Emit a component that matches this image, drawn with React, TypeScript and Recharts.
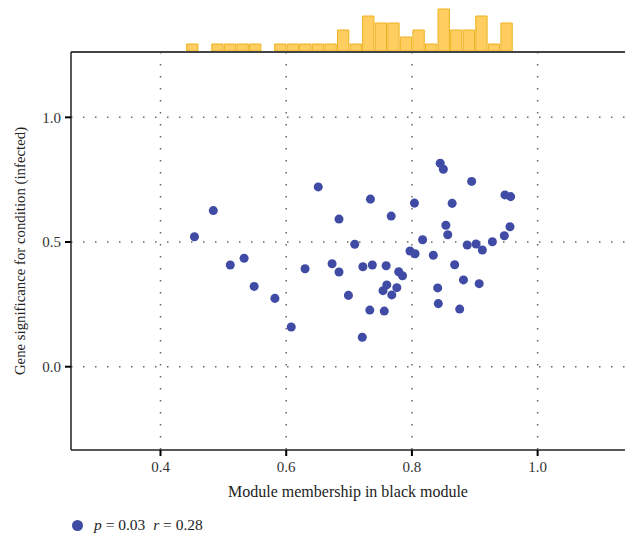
import React from 'react';
import {
  BarChart, Bar, ScatterChart, Scatter, XAxis, YAxis, CartesianGrid, ReferenceLine,
} from 'recharts';

// module membership (x) vs gene significance (y)
const membership = [
  0.454, 0.484, 0.651, 0.684, 0.709, 0.533, 0.511, 0.549, 0.582, 0.608,
  0.630, 0.673, 0.684, 0.699, 0.734, 0.767, 0.804, 0.817, 0.797, 0.845,
  0.850, 0.864, 0.854, 0.857, 0.895, 0.948, 0.957, 0.956, 0.947, 0.928,
  0.888, 0.902, 0.912, 0.805, 0.834, 0.868, 0.722, 0.737, 0.759, 0.779,
  0.785, 0.760, 0.754, 0.768, 0.776, 0.733, 0.756, 0.721, 0.841, 0.842,
  0.882, 0.907, 0.876,
];
const significance = [
  0.521, 0.626, 0.721, 0.592, 0.491, 0.435, 0.408, 0.322, 0.274, 0.159,
  0.393, 0.413, 0.380, 0.286, 0.672, 0.604, 0.656, 0.509, 0.464, 0.816,
  0.792, 0.655, 0.567, 0.529, 0.743, 0.689, 0.682, 0.561, 0.525, 0.501,
  0.488, 0.492, 0.468, 0.453, 0.447, 0.409, 0.401, 0.408, 0.405, 0.381,
  0.365, 0.328, 0.305, 0.288, 0.317, 0.227, 0.223, 0.118, 0.316, 0.253,
  0.348, 0.333, 0.231,
];

// marginal histogram (bin start, count), bin width 0.02
const binStarts = [
  0.44, 0.48, 0.50, 0.52, 0.54, 0.58, 0.60, 0.62, 0.64, 0.66, 0.68, 0.70,
  0.72, 0.74, 0.76, 0.78, 0.80, 0.82, 0.84, 0.86, 0.88, 0.90, 0.92, 0.94,
];
const binCounts = [1, 1, 1, 1, 1, 1, 1, 1, 1, 1, 3, 1, 5, 4, 4, 2, 3, 1, 6, 3, 3, 5, 1, 4];
const binWidth = 0.02;

const xTicks = [0.4, 0.6, 0.8, 1.0];
const yTicks = [0.0, 0.5, 1.0];

const X_MIN = 0.2576;
const X_MAX = 1.139;
const Y_MIN = -0.334;
const Y_MAX = 1.262;

const W = 625;
const PLOT_LEFT = 71;
const PLOT_TOP = 52;
const PLOT_BOTTOM = 450;
const HIST_H = 51;

const FONT = '"Liberation Serif", "DejaVu Serif", serif';
const DOT = '#3f4ba4';

const points = membership.map((x, i) => ({ x, y: significance[i] }));
const bins = binStarts.map((s, i) => ({ mid: s + binWidth / 2, count: binCounts[i] }));

const fmt = (v: number) => v.toFixed(1);

export default function App() {
  const plotW = W - PLOT_LEFT;
  const barPx = (binWidth * plotW) / (X_MAX - X_MIN);

  return (
    <div style={{ position: 'absolute', left: 0, top: 0, width: W, height: 539, background: '#fff', fontFamily: FONT }}>
      <div style={{ position: 'absolute', left: 0, top: 0 }}>
        <BarChart
          width={W}
          height={HIST_H}
          data={bins}
          margin={{ top: 0, right: 0, left: PLOT_LEFT, bottom: 0 }}
          barSize={barPx}
          barCategoryGap={0}
        >
          <XAxis hide type="number" dataKey="mid" domain={[X_MIN, X_MAX]} allowDataOverflow />
          <YAxis hide type="number" domain={[0, HIST_H / 7]} allowDataOverflow />
          <Bar dataKey="count" fill="#ffcd60" stroke="#edb21c" strokeWidth={1} isAnimationActive={false} />
        </BarChart>
      </div>
      <div style={{ position: 'absolute', left: 0, top: 0 }}>
        <ScatterChart
          width={W}
          height={539}
          margin={{ top: PLOT_TOP, right: 0, left: 11, bottom: 539 - PLOT_BOTTOM - 50 }}
        >
          <CartesianGrid
            stroke="#666"
            strokeWidth={1.5}
            strokeDasharray="1.5 10.5"
            horizontalValues={yTicks}
            verticalValues={xTicks}
          />
          <XAxis
            type="number"
            dataKey="x"
            domain={[X_MIN, X_MAX]}
            ticks={xTicks}
            tickFormatter={fmt}
            allowDataOverflow
            height={50}
            axisLine={{ stroke: '#222', strokeWidth: 1.5 }}
            tickLine={{ stroke: '#000', strokeWidth: 2 }}
            tickSize={6}
            tickMargin={5}
            tick={{ fill: '#333', fontSize: 15, fontFamily: FONT }}
            label={{
              value: 'Module membership in black module',
              position: 'insideBottom',
              offset: 3,
              style: { fill: '#222', fontSize: 16, fontFamily: FONT },
            }}
          />
          <YAxis
            type="number"
            dataKey="y"
            domain={[Y_MIN, Y_MAX]}
            ticks={yTicks}
            tickFormatter={fmt}
            allowDataOverflow
            width={60}
            axisLine={{ stroke: '#222', strokeWidth: 1.5 }}
            tickLine={{ stroke: '#000', strokeWidth: 2 }}
            tickSize={6}
            tickMargin={4}
            tick={{ fill: '#333', fontSize: 15, fontFamily: FONT }}
            label={{
              value: 'Gene significance for condition (infected)',
              angle: -90,
              position: 'insideLeft',
              offset: 9,
              style: { fill: '#222', fontSize: 14.8, fontFamily: FONT, textAnchor: 'middle' },
            }}
          />
          <ReferenceLine y={Y_MAX} stroke="#444" strokeWidth={2} />
          <Scatter data={points} fill={DOT} isAnimationActive={false} />
        </ScatterChart>
      </div>
      <div
        style={{
          position: 'absolute', left: 72, top: 516, display: 'flex', alignItems: 'center',
          fontSize: 15.5, color: '#222', whiteSpace: 'pre',
        }}
      >
        <span style={{ display: 'inline-block', width: 11, height: 11, borderRadius: '50%', background: DOT, marginRight: 11 }} />
        <span><i>p</i> = 0.03  <i>r</i> = 0.28</span>
      </div>
    </div>
  );
}
